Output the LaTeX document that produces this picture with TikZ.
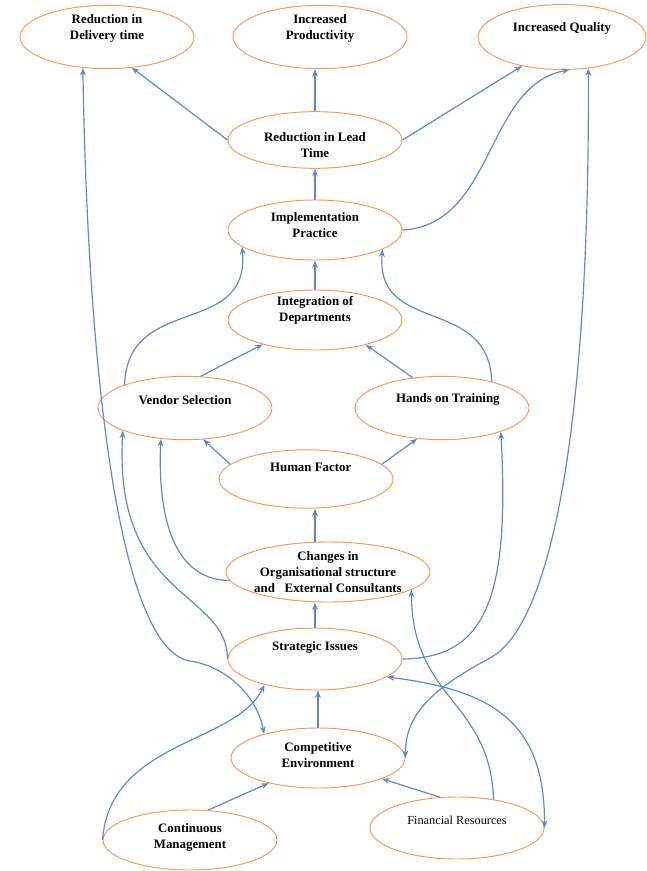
\documentclass[tikz,border=0pt]{standalone}
\usepackage{fontspec}
\setmainfont{Liberation Serif}
\usetikzlibrary{shapes.geometric,arrows.meta}
\definecolor{ovalline}{RGB}{246,150,80}
\definecolor{linkblue}{RGB}{91,137,199}

\begin{document}
\begin{tikzpicture}[
    x=0.03cm, y=-0.03cm,
    oval/.style={ellipse, draw=ovalline, line width=0.8pt, minimum width=5.22cm, minimum height=1.8cm, inner sep=0pt},
    ovaltext/.style={font=\fontsize{11}{13.5}\selectfont\bfseries, align=center},
    link/.style={draw=linkblue, line width=1pt, -{Stealth[length=6.5pt,width=5pt]}},
    both/.style={link, {Stealth[length=6.5pt,width=5pt]}-{Stealth[length=6.5pt,width=5pt]}},
]
\useasboundingbox (0,0) rectangle (646,871);

% Outcomes at top
\node[oval, minimum height=1.9cm, label={[ovaltext,yshift=7.5pt]center:Reduction in\\Delivery time}] (delivery) at (107,37) {};
\node[oval, minimum height=1.9cm, label={[ovaltext,yshift=7.5pt]center:Increased\\Productivity}] (product) at (320,37) {};
\node[oval, minimum width=5.04cm, minimum height=1.95cm, label={[ovaltext,yshift=7.5pt]center:Increased Quality}] (quality) at (562,37) {};

% Central column
\node[oval, minimum height=1.7cm, label={[ovaltext,yshift=-4pt]center:Reduction in Lead\\Time}] (lead) at (315,140) {};
\node[oval, label={[ovaltext,yshift=4pt]center:Implementation\\Practice}] (impl) at (315,230) {};
\node[oval, label={[ovaltext,yshift=8.5pt]center:Integration of\\Departments}] (integ) at (315,320) {};
\node[oval, minimum height=1.9cm, label={[ovaltext,yshift=7pt]center:Vendor Selection}] (vendor) at (185,408) {};
\node[oval, minimum height=1.9cm, label={[ovaltext,xshift=5pt,yshift=7pt]center:Hands on Training}] (hands) at (442,408) {};
\node[oval, minimum height=1.75cm, label={[ovaltext,xshift=4pt,yshift=10pt]center:Human Factor}] (human) at (306,479) {};
\node[oval, minimum width=6.12cm, label={[ovaltext]center:Changes in\\Organisational structure\\and~~~External Consultants}] (changes) at (328,572) {};
\node[oval, minimum height=1.86cm, label={[ovaltext,yshift=9.5pt]center:Strategic Issues}] (strategic) at (315,659) {};
\node[oval, label={[ovaltext,yshift=2.5pt]center:Competitive\\Environment}] (compet) at (318,758) {};

% Drivers at bottom
\node[oval, label={[ovaltext,yshift=2pt]center:Continuous\\Management}] (contin) at (190,840) {};
\node[oval, minimum height=1.86cm, label={[font=\fontsize{10.5}{12}\selectfont,yshift=7pt]center:Financial Resources}] (financ) at (457,828) {};

% Straight links
\draw[link] (lead.west) -- (delivery.-51);
\draw[link] (lead.north) -- (lead.north |- product.south);
\draw[link] (lead.east) -- (quality.-144);
\draw[link] (impl.north) -- (lead.south);
\draw[link] (integ.north) -- (impl.south);
\draw[link] (vendor.64) -- (integ.-155);
\draw[link] (hands.134) -- (integ.-26);
\draw[link] (human.169) -- (vendor.-60);
\draw[link] (human.11) -- (hands.-129);
\draw[link] (changes.north -| strategic) -- (human.south -| strategic);
\draw[link] (strategic.north) -- (strategic.north |- changes.south);
\draw[link] (compet.north) -- (compet.north |- strategic.south);
\draw[link] (financ.119) -- (compet.-18);
\draw[link] (contin.59) -- (compet.-153);

% Curved links
\draw[link] (impl.east) .. controls (495,225) and (485,85) .. (quality.-77);
\draw[link] (vendor.159) to[out=88, in=-85, looseness=1.3] (impl.-167);
\draw[link] (hands.28) to[out=92, in=-95, looseness=1.3] (impl.-16);
\draw[link] (changes.185) .. controls (167,580) and (158,502) .. (vendor.-128);
\draw[link] (strategic.west) .. controls (227,590) and (113,600) .. (vendor.-160);
\draw[link] (strategic.east) .. controls (485,658) and (510,600) .. (hands.-22);
\draw[link] (financ.38) .. controls (490,700) and (412,700) .. (changes.-12);
\draw[link] (contin.west) .. controls (110,740) and (235,745) .. (strategic.-153);
\draw[both] (strategic.-14) .. controls (490,690) and (545,720) .. (financ.east);
\draw[both] (delivery.-128) .. controls (88,380) and (120,650) .. (190,661) .. controls (230,667) and (258,700) .. (compet.156);
\draw[both] (quality.-50) .. controls (590,380) and (560,620) .. (490,658) .. controls (440,685) and (405,710) .. (compet.east);

\end{tikzpicture}
\end{document}
